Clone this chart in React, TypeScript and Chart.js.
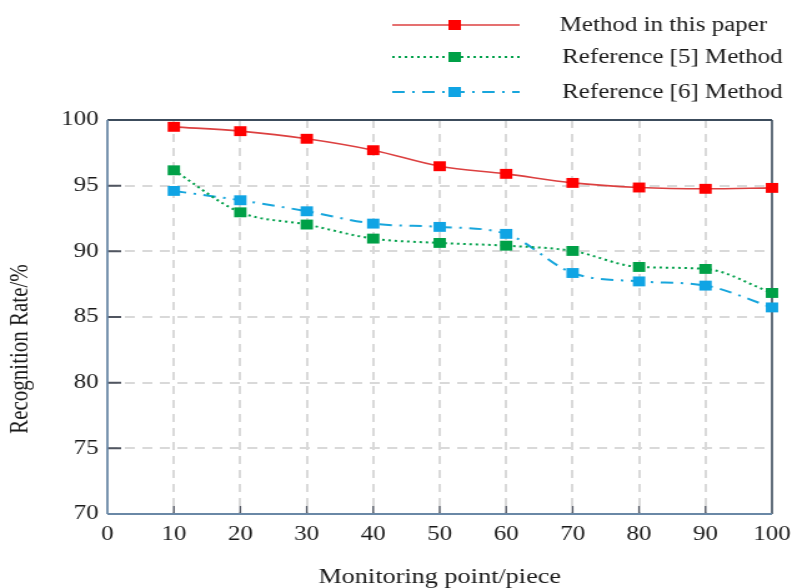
import { useEffect, useRef } from 'react';
import { Chart, registerables } from 'chart.js';

Chart.register(...registerables);

const xValues = [10, 20, 30, 40, 50, 60, 70, 80, 90, 100];
const methodThisPaper = [99.48, 99.15, 98.57, 97.7, 96.48, 95.9, 95.21, 94.86, 94.76, 94.83];
const reference5 = [96.17, 92.97, 92.04, 90.97, 90.64, 90.43, 90.03, 88.81, 88.66, 86.83];
const reference6 = [94.6, 93.89, 93.05, 92.11, 91.86, 91.33, 88.35, 87.71, 87.39, 85.73];
const seriesNames = ['Method in this paper', 'Reference [5] Method', 'Reference [6] Method'];
const xTickValues = [0, 10, 20, 30, 40, 50, 60, 70, 80, 90, 100];
const yTickValues = [70, 75, 80, 85, 90, 95, 100];
const xTitle = 'Monitoring point/piece';
const yTitle = 'Recognition Rate/%';

const CANVAS_W = 642;
const CANVAS_H = 588;
const FONT = "'Liberation Serif', 'Times New Roman', serif";

const lineColors = ['#dc4040', '#00a04a', '#18a6dc'];
const markerColors = ['#ff0000', '#00a047', '#10a4e4'];
const dashes: number[][] = [[], [2, 3], [10, 6, 2, 6]];
const lineWidths = [1.6, 2, 2];

export default function App() {
  const ref = useRef<HTMLCanvasElement | null>(null);

  useEffect(() => {
    const canvas = ref.current;
    if (!canvas) return;

    const decorPlugin = {
      id: 'decor',
      beforeDatasetsDraw(chart: any) {
        const { ctx, chartArea } = chart;
        const { left, right, top, bottom } = chartArea;
        const xs = chart.scales.x;
        const ys = chart.scales.y;
        ctx.save();
        ctx.strokeStyle = '#505560';
        ctx.lineWidth = 2;
        ctx.beginPath();
        yTickValues.forEach((v) => {
          if (v === 70 || v === 100) return;
          const y = ys.getPixelForValue(v);
          ctx.moveTo(left, y);
          ctx.lineTo(left + 11, y);
        });
        ctx.stroke();
        ctx.lineWidth = 1.4;
        ctx.beginPath();
        xTickValues.forEach((v) => {
          if (v === 0 || v === 100) return;
          const x = xs.getPixelForValue(v);
          ctx.moveTo(x, bottom);
          ctx.lineTo(x, bottom - 8);
        });
        ctx.stroke();
        ctx.strokeStyle = '#3c4c5c';
        ctx.lineWidth = 2;
        ctx.beginPath();
        ctx.moveTo(left, top);
        ctx.lineTo(right, top);
        ctx.stroke();
        ctx.lineWidth = 1.6;
        ctx.beginPath();
        ctx.moveTo(right, top);
        ctx.lineTo(right, bottom);
        ctx.stroke();
        ctx.strokeStyle = '#6a88a6';
        ctx.lineWidth = 2.2;
        ctx.beginPath();
        ctx.moveTo(left, bottom);
        ctx.lineTo(right, bottom);
        ctx.stroke();
        ctx.lineWidth = 1.8;
        ctx.beginPath();
        ctx.moveTo(left, top);
        ctx.lineTo(left, bottom);
        ctx.stroke();
        ctx.restore();
      },
      afterDraw(chart: any) {
        const { ctx, chartArea } = chart;
        ctx.save();
        ctx.fillStyle = '#1a1a1a';
        ctx.textAlign = 'center';
        ctx.textBaseline = 'middle';
        ctx.font = `21px ${FONT}`;
        ctx.fillText(xTitle, (chartArea.left + chartArea.right) / 2, 577);
        ctx.save();
        ctx.translate(16, 349);
        ctx.rotate(-Math.PI / 2);
        ctx.fillText(yTitle, 0, 0);
        ctx.restore();
        ctx.font = `20px ${FONT}`;
        const rows = [25, 57, 92];
        const textX = [448, 450, 450];
        rows.forEach((y, i) => {
          ctx.save();
          ctx.strokeStyle = lineColors[i];
          ctx.lineWidth = lineWidths[i];
          ctx.setLineDash(dashes[i]);
          ctx.beginPath();
          ctx.moveTo(314, y);
          ctx.lineTo(416, y);
          ctx.stroke();
          ctx.restore();
          ctx.fillStyle = markerColors[i];
          ctx.fillRect(364 - 5, y - 5, 10, 10);
          ctx.fillStyle = '#1a1a1a';
          ctx.textAlign = 'left';
          ctx.fillText(seriesNames[i], textX[i], y + 1);
        });
        ctx.restore();
      },
    };

    const seriesData = [methodThisPaper, reference5, reference6];
    const chart = new Chart(canvas, {
      type: 'line',
      data: {
        datasets: seriesData.map((vals, i) => ({
          label: seriesNames[i],
          data: xValues.map((x, j) => ({ x, y: vals[j] })),
          borderColor: lineColors[i],
          borderWidth: lineWidths[i],
          borderDash: dashes[i],
          backgroundColor: markerColors[i],
          pointBackgroundColor: markerColors[i],
          pointBorderColor: markerColors[i],
          pointBorderWidth: 0,
          pointStyle: 'rect',
          pointRadius: 7,
          tension: 0.4,
          cubicInterpolationMode: 'monotone' as const,
          clip: false as any,
          fill: false,
        })),
      },
      options: {
        responsive: false,
        animation: false,
        devicePixelRatio: 1,
        layout: { padding: { top: 120, right: 17, left: 0, bottom: 0 } },
        plugins: {
          legend: { display: false },
          tooltip: { enabled: false },
        },
        scales: {
          x: {
            type: 'linear',
            min: 0,
            max: 100,
            afterBuildTicks: (scale: any) => {
              scale.ticks = xTickValues.map((v) => ({ value: v }));
            },
            afterFit: (scale: any) => {
              scale.height = 74;
            },
            ticks: {
              font: { family: FONT, size: 20 },
              color: '#1a1a1a',
              padding: 9,
              maxRotation: 0,
              autoSkip: false,
            },
            grid: {
              color: (c: any) => (c.tick && (c.tick.value === 0 || c.tick.value === 100) ? 'rgba(0,0,0,0)' : '#d9d9d9'),
              lineWidth: 2,
              drawTicks: false,
            },
            border: { display: false, dash: [8, 6] },
          },
          y: {
            type: 'linear',
            min: 70,
            max: 100,
            afterBuildTicks: (scale: any) => {
              scale.ticks = yTickValues.map((v) => ({ value: v }));
            },
            afterFit: (scale: any) => {
              scale.width = 86;
            },
            ticks: {
              font: { family: FONT, size: 20 },
              color: '#1a1a1a',
              padding: 7,
              autoSkip: false,
            },
            grid: {
              color: (c: any) => (c.tick && (c.tick.value === 70 || c.tick.value === 100) ? 'rgba(0,0,0,0)' : '#d9d9d9'),
              lineWidth: 2,
              drawTicks: false,
            },
            border: { display: false, dash: [8, 6] },
          },
        },
      },
      plugins: [decorPlugin],
    });

    return () => {
      chart.destroy();
    };
  }, []);

  return (
    <canvas
      ref={ref}
      width={CANVAS_W}
      height={CANVAS_H}
      style={{
        position: 'absolute',
        left: 0,
        top: 0,
        width: '802px',
        height: '588px',
        display: 'block',
        background: '#ffffff',
      }}
    />
  );
}
